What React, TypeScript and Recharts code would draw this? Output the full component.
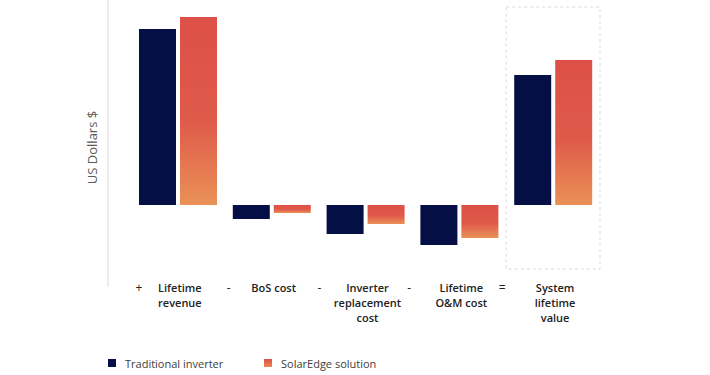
import { BarChart, Bar, XAxis, YAxis, ReferenceArea, Legend } from 'recharts'

const categories = ['Lifetime revenue', 'BoS cost', 'Inverter replacement cost', 'Lifetime O&M cost', 'System lifetime value']
const tickLines = [['Lifetime', 'revenue'], ['BoS cost'], ['Inverter', 'replacement', 'cost'], ['Lifetime', 'O&M cost'], ['System', 'lifetime', 'value']]
const operators = ['+', '-', '-', '-', '=']
const traditional = [176, -14, -29, -40, 130]
const solarEdge = [188, -8, -19, -33, 145]

const data = categories.map((name, i) => ({
  name,
  traditional: traditional[i],
  solarEdge: solarEdge[i],
}))

const NAVY = '#030f45'
const FONT = '"Open Sans", "Noto Sans", sans-serif'

// operator sign sits left of each category label
const opOffsets = [-39, -43, -46, -50, -51]

function CategoryTick({ x, y, payload, index }: any) {
  const lines = tickLines[index] ?? [payload.value]
  return (
    <g>
      <text x={x + opOffsets[index]} y={y + 5} textAnchor="middle" fontSize={12} fill="#222" fontFamily={FONT}>
        {operators[index]}
      </text>
      <text
        x={x + 2}
        y={y + 5}
        textAnchor="middle"
        fontSize={11}
        fontWeight={600}
        fill="#222"
        fontFamily={FONT}
      >
        {lines.map((line, i) => (
          <tspan key={line} x={x + 2} dy={i === 0 ? 0 : 15}>
            {line}
          </tspan>
        ))}
      </text>
    </g>
  )
}

function YLabel({ viewBox }: any) {
  const cx = viewBox.x + viewBox.width - 16
  const cy = viewBox.y + viewBox.height / 2 + 4
  return (
    <text
      x={cx}
      y={cy}
      transform={`rotate(-90 ${cx} ${cy})`}
      textAnchor="middle"
      dominantBaseline="central"
      fontSize={13}
      fill="#595959"
      fontFamily={FONT}
    >
      US Dollars $
    </text>
  )
}

function LegendBox() {
  const swatch = (background: string) => (
    <span style={{ width: 8, height: 8, background, marginRight: 9, display: 'inline-block' }} />
  )
  return (
    <div style={{ display: 'flex', height: 20, alignItems: 'center', paddingLeft: 108, fontFamily: FONT, fontSize: 11, color: '#404040' }}>
      <div style={{ display: 'flex', alignItems: 'center', width: 156 }}>
        {swatch(NAVY)}
        <span>Traditional inverter</span>
      </div>
      <div style={{ display: 'flex', alignItems: 'center' }}>
        {swatch('linear-gradient(#dd5047, #e8874f)')}
        <span>SolarEdge solution</span>
      </div>
    </div>
  )
}

export default function App() {
  return (
    <div style={{ position: 'absolute', left: 0, top: 0 }}>
      <BarChart
        width={710}
        height={375}
        data={data}
        margin={{ top: 0, right: 110, left: 0, bottom: 2 }}
        barSize={37}
        barGap={4}
      >
        <defs>
          <linearGradient id="seGrad" x1="0" y1="0" x2="0" y2="1">
            <stop offset="0%" stopColor="#dd5047" />
            <stop offset="55%" stopColor="#df5a4a" />
            <stop offset="100%" stopColor="#ea9157" />
          </linearGradient>
        </defs>
        <XAxis
          dataKey="name"
          axisLine={false}
          tickLine={false}
          tickSize={0}
          tickMargin={0}
          height={66}
          padding={{ left: 23, right: 0 }}
          interval={0}
          tick={<CategoryTick />}
        />
        <YAxis
          domain={[-82, 205]}
          width={108}
          tick={false}
          tickLine={false}
          axisLine={{ stroke: '#d9d9d9' }}
          label={<YLabel />}
        />
        <ReferenceArea
          x1="System lifetime value"
          x2="System lifetime value"
          y1={-64}
          y2={198}
          fill="none"
          stroke="#d9d9d9"
          strokeDasharray="3 3"
        />
        <Legend verticalAlign="bottom" height={20} content={<LegendBox />} />
        <Bar dataKey="traditional" fill={NAVY} isAnimationActive={false} />
        <Bar dataKey="solarEdge" fill="url(#seGrad)" isAnimationActive={false} />
      </BarChart>
    </div>
  )
}
